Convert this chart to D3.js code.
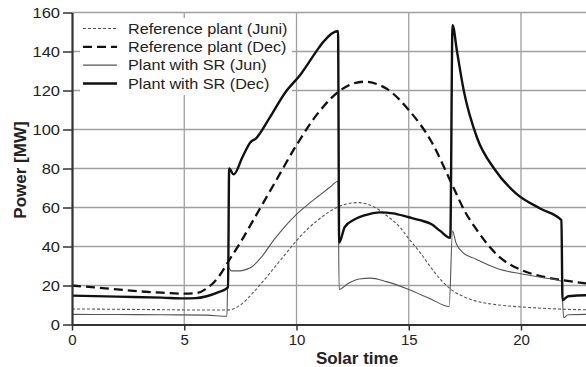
<!DOCTYPE html>
<html>
<head>
<meta charset="utf-8">
<script src="https://cdn.jsdelivr.net/npm/d3@7"></script>
<style>
	body { margin: 0; background: #fff; }
	svg { display: block; font-family: "Liberation Sans", Arial, sans-serif; }
	.tick text { font-size: 15px; fill: #222; }
	.axis-title { font-size: 17px; font-weight: bold; fill: #222; }
	.legend-labels { font-size: 15px; fill: #222; }
</style>
</head>
<body>
<svg id="viz"></svg>
<script>
// [solar time (h), power (MW)]
const refJun = [[0,8],[2,7.8],[4,7.6],[6,7.4],[7,7.5],[7.5,10],[8,15.5],[8.5,22],[9,29],[9.5,36],[10,43],[11,54],[12,61],[12.75,62.5],[13.5,60],[14,56],[14.6,50],[15,44],[15.5,37],[16,29],[16.5,22],[17,17],[17.5,14],[18,12],[19,10],[20,9],[21,8.3],[22,7.8],[23,7.5],[24,7.3]];

const refDec = [[0,20],[1,19],[2,18],[3,17],[4,16.3],[5,15.8],[5.5,16],[6,18.5],[6.5,24],[7,33],[7.5,42],[8,52],[9,72],[10,92],[11,109],[12,120.5],[13,124.5],[14,121],[15,110],[16,94],[17,70],[17.5,58],[18,49],[19,35],[20,28],[21,24.5],[22,22.5],[23,21],[24,20]];

const srJun = [[0,5.2],[2,5.1],[4,5],[6,4.8],[6.9,4.2],[6.95,29.5],[7.1,27.5],[7.5,27.5],[7.8,28.4],[8,29.5],[8.4,34],[9,43.5],[9.5,50.5],[10,56.5],[10.5,61.5],[11,66],[11.5,70.5],[11.85,73.5],[11.9,18],[12.3,21],[12.8,23.3],[13.3,23.8],[14,22],[15,18],[16,13],[16.8,9.2],[16.95,48],[17.1,42],[17.4,37],[18,33.5],[19,28.5],[20,26],[21,24],[21.8,22.2],[21.9,3.5],[22.1,5],[23,5.2],[24,5.2]];

const srDec = [[0,14.8],[2,14.3],[4,13.8],[5,13.4],[5.5,13.5],[6,14.5],[6.5,16.5],[6.95,19],[7,80],[7.2,77],[7.6,86],[7.95,93.5],[8.2,95.5],[8.8,106],[9.5,119],[10.2,128.5],[11,142],[11.2,145],[11.85,150.5],[11.9,42],[12.15,50],[12.6,54],[13.2,56.5],[13.7,57.5],[14.3,57],[15,55],[15.5,53.5],[16,51.5],[16.4,48],[16.85,44.5],[16.95,153.5],[17.15,140],[17.45,120],[18.05,95.5],[18.8,80],[19.8,67],[20.85,59.5],[21.8,53.5],[21.85,12.5],[22.1,14.5],[23,15],[24,15]];

const legendNames = ["Reference plant (Juni)", "Reference plant (Dec)", "Plant with SR (Jun)", "Plant with SR (Dec)"];
const xTicks = [0, 5, 10, 15, 20];
const yTicks = [0, 20, 40, 60, 80, 100, 120, 140, 160];

let translate = function(x, y) {
	return 'translate(' + x + ',' + y + ')';
}

// the picture's text is a bit wider than Arial, so stretch it
let stretch = function(sel, k) {
	sel.each(function() {
		let w = this.getComputedTextLength();
		d3.select(this)
			.attr("textLength", w * k)
			.attr("lengthAdjust", "spacingAndGlyphs");
	});
}

let drawEverything = function() {

	const width = 586;
	const height = 367;

	// plot runs off the right edge, like the picture
	const x = d3.scaleLinear().domain([0, 24]).range([72, 610.8]);
	const y = d3.scaleLinear().domain([0, 160]).range([324.5, 12.5]);

	const svg = d3.select("svg#viz")
		.attr("width", width)
		.attr("height", height);

	// styles for each series, same order as legendNames
	const styles = [
		{data: refJun, stroke: "#555", width: 1.1, dash: "3,2"},
		{data: refDec, stroke: "#111", width: 2.3, dash: "9,5"},
		{data: srJun, stroke: "#555", width: 1.1, dash: null},
		{data: srDec, stroke: "#111", width: 2.4, dash: null}
	];

	drawGrid();
	// legend box hides the grid but not the curves
	svg.append("rect")
		.attr("x", 80).attr("y", 18)
		.attr("width", 212).attr("height", 77)
		.attr("fill", "#fff");
	drawLines();
	drawLegend();
	drawAxes();

	function drawGrid() {
		let grid = svg.append("g").attr("id", "grid")
			.attr("stroke", "#a0a0a0")
			.attr("stroke-width", 1.3);

		grid.selectAll("line.h")
			.data(yTicks.filter(d => d > 0))
			.join("line")
			.attr("class", "h")
			.attr("x1", x(0)).attr("x2", x(24))
			.attr("y1", d => y(d)).attr("y2", d => y(d));

		grid.selectAll("line.v")
			.data(xTicks.filter(d => d > 0))
			.join("line")
			.attr("class", "v")
			.attr("x1", d => x(d)).attr("x2", d => x(d))
			.attr("y1", y(0)).attr("y2", y(160));
	}

	function drawLines() {
		const line = d3.line()
			.x(d => x(d[0]))
			.y(d => y(d[1]))
			.curve(d3.curveMonotoneX);

		svg.append("g").attr("id", "lines")
			.selectAll("path")
			.data(styles)
			.join("path")
			.attr("fill", "none")
			.attr("stroke", d => d.stroke)
			.attr("stroke-width", d => d.width)
			.attr("stroke-dasharray", d => d.dash)
			.attr("stroke-linejoin", "round")
			.attr("d", d => line(d.data));
	}

	function drawAxes() {
		let xAxis = d3.axisBottom(x)
			.tickValues(xTicks)
			.tickSize(6)
			.tickPadding(4)
			.tickSizeOuter(0);

		svg.append("g")
			.attr("id", "x-axis")
			.attr("transform", translate(0, y(0)))
			.call(xAxis);

		let yAxis = d3.axisLeft(y)
			.tickValues(yTicks)
			.tickSize(9)
			.tickPadding(3)
			.tickSizeOuter(0);

		svg.append("g")
			.attr("id", "y-axis")
			.attr("transform", translate(x(0), 0))
			.call(yAxis);

		svg.selectAll(".domain").attr("stroke", "#333").attr("stroke-width", 2.2);
		svg.selectAll(".tick line").attr("stroke", "#333").attr("stroke-width", 1.5);
		svg.selectAll(".tick text").attr("font-family", null).attr("font-size", null);
		stretch(svg.selectAll("#y-axis .tick text"), 1.1);

		svg.append("text")
			.attr("class", "axis-title")
			.attr("text-anchor", "middle")
			.attr("x", 357)
			.attr("y", 364)
			.text("Solar time");

		svg.append("text")
			.attr("class", "axis-title")
			.attr("text-anchor", "middle")
			.attr("transform", translate(26, 170) + " rotate(-90)")
			.text("Power [MW]");
	}

	function drawLegend() {
		let legend = svg.append("g").attr("id", "legend")
			.attr("transform", translate(80, 18));

		const rowScale = d3.scalePoint()
			.domain(legendNames)
			.range([10.5, 65.5]);

		let items = legend.selectAll("g.item")
			.data(legendNames)
			.join("g")
			.attr("class", "item")
			.attr("transform", d => translate(0, rowScale(d)));

		items.append("line")
			.attr("x1", 3).attr("x2", 37)
			.attr("stroke", (d, i) => styles[i].stroke)
			.attr("stroke-width", (d, i) => styles[i].width)
			.attr("stroke-dasharray", (d, i) => styles[i].dash);

		let labels = items.append("text")
			.attr("class", "legend-labels")
			.attr("x", 48)
			.attr("dy", "0.35em")
			.text(d => d);

		stretch(labels, 1.08);
	}
};

drawEverything();
</script>
</body>
</html>
